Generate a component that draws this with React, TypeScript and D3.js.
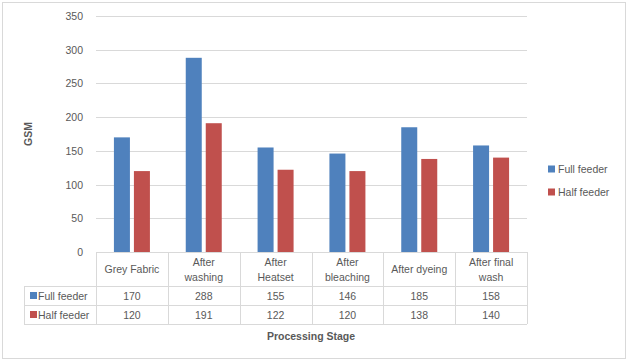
import React, { useEffect, useRef } from "react";
import * as d3 from "d3";

// data
const stages = [
  ["Grey Fabric"],
  ["After", "washing"],
  ["After", "Heatset"],
  ["After", "bleaching"],
  ["After dyeing"],
  ["After final", "wash"],
];
const seriesNames = ["Full feeder", "Half feeder"];
const fullFeeder = [170, 288, 155, 146, 185, 158];
const halfFeeder = [120, 191, 122, 120, 138, 140];
const yTicks = [0, 50, 100, 150, 200, 250, 300, 350];

const colors = ["#4F81BD", "#C0504D"];
const font = "'Liberation Sans', Arial, sans-serif";

export default function App() {
  const ref = useRef<SVGSVGElement>(null);

  useEffect(() => {
    const width = 629;
    const height = 362;
    const svg = d3.select(ref.current);
    svg.selectAll("*").remove();

    const left = 96,
      right = 527,
      top = 16,
      bottom = 252;

    // outer frame
    svg
      .append("rect")
      .attr("x", 2.5)
      .attr("y", 2.5)
      .attr("width", width - 6)
      .attr("height", height - 6)
      .attr("fill", "white")
      .attr("stroke", "#D9D9D9");

    const x = d3
      .scaleBand<number>()
      .domain(d3.range(stages.length))
      .range([left, right]);
    const y = d3.scaleLinear().domain([0, 350]).range([bottom, top]);

    const values = [fullFeeder, halfFeeder];
    const barW = 16,
      gap = 4;

    // gridlines
    svg
      .append("g")
      .selectAll("line")
      .data(yTicks)
      .join("line")
      .attr("x1", left)
      .attr("x2", right)
      .attr("y1", (d) => Math.round(y(d)) + 0.5)
      .attr("y2", (d) => Math.round(y(d)) + 0.5)
      .attr("stroke", "#D9D9D9");

    // y tick labels
    svg
      .append("g")
      .attr("font-family", font)
      .attr("font-size", 10.5)
      .attr("fill", "#595959")
      .attr("text-anchor", "end")
      .selectAll("text")
      .data(yTicks)
      .join("text")
      .attr("x", 83)
      .attr("y", (d) => y(d) + 4)
      .text((d) => d);

    // bars
    values.forEach((vals, si) => {
      svg
        .append("g")
        .attr("fill", colors[si])
        .selectAll("rect")
        .data(vals)
        .join("rect")
        .attr("x", (_, i) => x(i)! + x.bandwidth() / 2 - barW - gap / 2 + si * (barW + gap))
        .attr("y", (d) => y(d))
        .attr("width", barW)
        .attr("height", (d) => bottom - y(d));
    });

    // data table
    const rowY = [bottom, 286, 305, 324];
    const tableLeft = 24;
    const g = svg.append("g").attr("stroke", "#D9D9D9").attr("fill", "none");
    // horizontal lines
    rowY.forEach((ry, i) => {
      g.append("line")
        .attr("x1", i === 0 ? left : tableLeft)
        .attr("x2", right)
        .attr("y1", ry + 0.5)
        .attr("y2", ry + 0.5);
    });
    // vertical lines
    const cols = d3.range(stages.length + 1).map((i) => (i < stages.length ? x(i)! : right));
    cols.forEach((cx) => {
      g.append("line")
        .attr("x1", Math.round(cx) + 0.5)
        .attr("x2", Math.round(cx) + 0.5)
        .attr("y1", bottom)
        .attr("y2", rowY[3]);
    });
    g.append("line")
      .attr("x1", tableLeft + 0.5)
      .attr("x2", tableLeft + 0.5)
      .attr("y1", rowY[1])
      .attr("y2", rowY[3]);

    const t = svg
      .append("g")
      .attr("font-family", font)
      .attr("font-size", 10.5)
      .attr("fill", "#595959")
      .attr("text-anchor", "middle");

    // header
    stages.forEach((lines, i) => {
      const cx = x(i)! + x.bandwidth() / 2;
      const mid = (rowY[0] + rowY[1]) / 2;
      lines.forEach((line, li) => {
        t.append("text")
          .attr("x", cx)
          .attr("y", mid + 4 + (li - (lines.length - 1) / 2) * 15)
          .text(line);
      });
    });

    // values
    values.forEach((vals, si) => {
      const mid = (rowY[si + 1] + rowY[si + 2]) / 2;
      vals.forEach((v, i) => {
        t.append("text")
          .attr("x", x(i)! + x.bandwidth() / 2)
          .attr("y", mid + 4)
          .text(v);
      });
      svg
        .append("rect")
        .attr("x", 30)
        .attr("y", mid - 3.5)
        .attr("width", 7)
        .attr("height", 7)
        .attr("fill", colors[si]);
      svg
        .append("text")
        .attr("x", 38)
        .attr("y", mid + 4)
        .attr("font-family", font)
        .attr("font-size", 10.5)
        .attr("fill", "#595959")
        .text(seriesNames[si]);
    });

    // legend
    seriesNames.forEach((name, si) => {
      const ly = 169 + si * 23;
      svg
        .append("rect")
        .attr("x", 548)
        .attr("y", ly - 3.5)
        .attr("width", 7)
        .attr("height", 7)
        .attr("fill", colors[si]);
      svg
        .append("text")
        .attr("x", 558)
        .attr("y", ly + 4)
        .attr("font-family", font)
        .attr("font-size", 10.5)
        .attr("fill", "#595959")
        .text(name);
    });

    // axis titles
    svg
      .append("text")
      .attr("transform", `translate(32,${(top + bottom) / 2}) rotate(-90)`)
      .attr("text-anchor", "middle")
      .attr("font-family", font)
      .attr("font-size", 10.5)
      .attr("font-weight", "bold")
      .attr("fill", "#595959")
      .text("GSM");
    svg
      .append("text")
      .attr("x", 311)
      .attr("y", 340)
      .attr("text-anchor", "middle")
      .attr("font-family", font)
      .attr("font-size", 10.5)
      .attr("font-weight", "bold")
      .attr("fill", "#595959")
      .text("Processing Stage");
  }, []);

  return (
    <svg
      ref={ref}
      width={629}
      height={362}
      style={{ position: "absolute", left: 0, top: 0 }}
    />
  );
}
